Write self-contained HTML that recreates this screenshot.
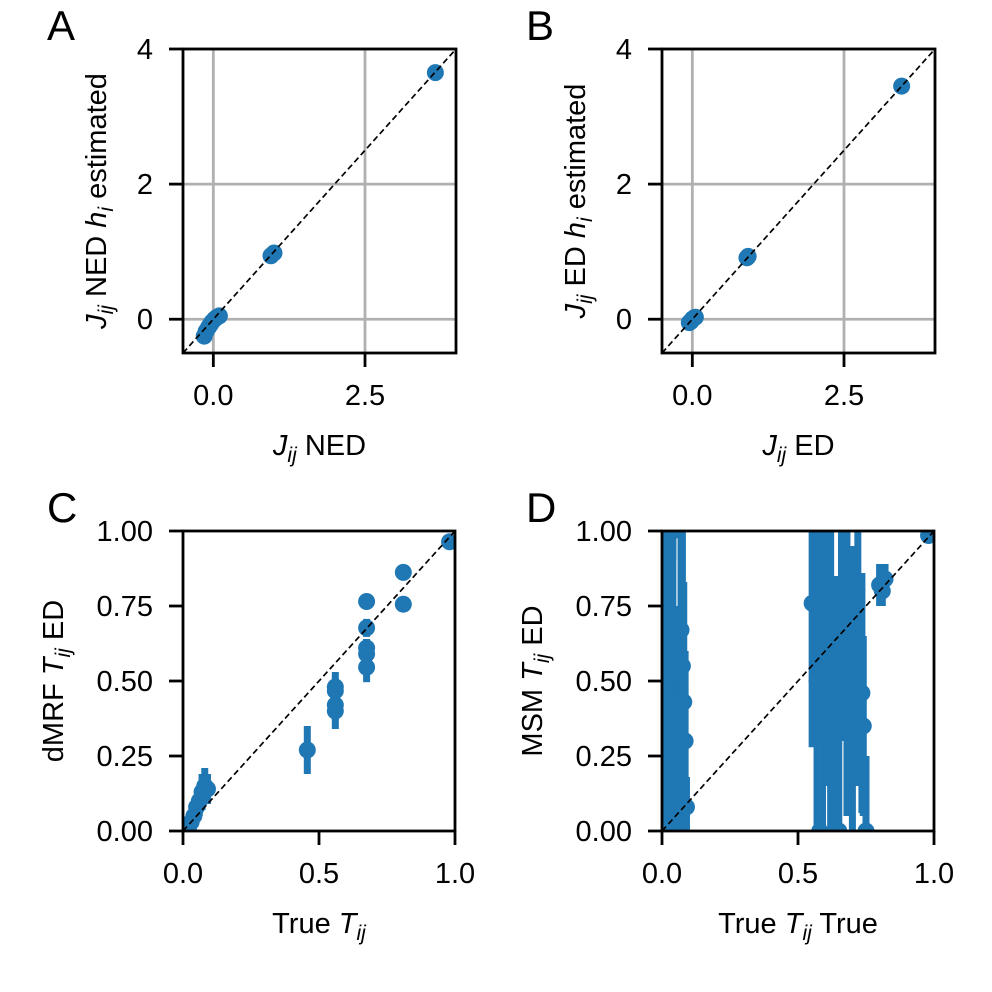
<!DOCTYPE html>
<html><head><meta charset="utf-8"><style>
html,body{margin:0;padding:0;background:#fff;}
svg{display:block;font-family:"Liberation Sans",sans-serif;}
</style></head><body>
<svg id="fig" width="992" height="992" viewBox="0 0 992 992" xmlns="http://www.w3.org/2000/svg"></svg>
<script>
// Panel A data
const aX = [3.66, 0.95, 1.0, -0.15, -0.12, -0.08, -0.05, -0.02, 0.02, 0.06, 0.1];
const aY = [3.65, 0.94, 0.98, -0.25, -0.18, -0.12, -0.08, -0.04, 0.0, 0.03, 0.05];
// Panel B data
const bX = [3.45, 0.9, 0.92, -0.05, -0.02, 0.0, 0.03, 0.05];
const bY = [3.45, 0.91, 0.93, -0.05, -0.03, 0.0, 0.02, 0.03];
// Panel C data (x, y, y error)
const cX = [0.98, 0.81, 0.81, 0.675, 0.675, 0.675, 0.675, 0.675, 0.56, 0.56, 0.56, 0.56, 0.457, 0.01, 0.02, 0.03, 0.04, 0.05, 0.06, 0.07, 0.08, 0.09];
const cY = [0.964, 0.862, 0.756, 0.765, 0.677, 0.61, 0.59, 0.546, 0.48, 0.467, 0.42, 0.40, 0.27, 0.0, 0.01, 0.03, 0.05, 0.08, 0.10, 0.13, 0.15, 0.14];
const cErr = [0.0, 0.0, 0.0, 0.02, 0.03, 0.03, 0.03, 0.05, 0.05, 0.04, 0.05, 0.06, 0.08, 0.02, 0.02, 0.03, 0.03, 0.04, 0.05, 0.06, 0.06, 0.05];
// Panel D data (x, y, y error)
const dX = [0.01, 0.02, 0.03, 0.04, 0.05, 0.06, 0.07, 0.075, 0.08, 0.085, 0.09, 0.06, 0.04, 0.552, 0.57, 0.59, 0.60, 0.62, 0.64, 0.66, 0.68, 0.70, 0.72, 0.735, 0.74, 0.80, 0.81, 0.82, 0.98, 0.58, 0.65, 0.75];
const dY = [0.5, 0.6, 0.45, 0.7, 0.35, 0.25, 0.67, 0.55, 0.43, 0.3, 0.08, 0.15, 1.0, 0.759, 0.5, 0.45, 0.6, 0.5, 0.4, 0.7, 0.55, 0.45, 0.6, 0.46, 0.35, 0.82, 0.80, 0.84, 0.985, 0.0, 0.0, 0.0];
const dErr = [0.5, 0.5, 0.5, 0.4, 0.4, 0.3, 0.4, 0.5, 0.4, 0.3, 0.1, 0.2, 0.1, 0.48, 0.5, 0.55, 0.45, 0.5, 0.45, 0.4, 0.5, 0.5, 0.45, 0.4, 0.3, 0.07, 0.05, 0.05, 0.0, 0.3, 0.4, 0.25];

const xTicksAB = [0.0, 2.5];
const xTickLabelsAB = ["0.0", "2.5"];
const yTicksAB = [0, 2, 4];
const yTickLabelsAB = ["0", "2", "4"];
const xTicksCD = [0.0, 0.5, 1.0];
const xTickLabelsCD = ["0.0", "0.5", "1.0"];
const yTicksCD = [0, 0.25, 0.5, 0.75, 1.0];
const yTickLabelsCD = ["0.00", "0.25", "0.50", "0.75", "1.00"];

const NS = "http://www.w3.org/2000/svg";
const fig = document.getElementById('fig');
const BLUE = "#1f77b4";
const FS = 29;
function mk(tag, attrs, parent) {
  const e = document.createElementNS(NS, tag);
  for (const k in attrs) e.setAttribute(k, attrs[k]);
  (parent || fig).appendChild(e);
  return e;
}
function panel(cfg) {
  const g = mk('g', {});
  
  
  const sx = v => cfg.x0 + (v - cfg.xmin) / (cfg.xmax - cfg.xmin) * (cfg.x1 - cfg.x0);
  const sy = v => cfg.y1 - (v - cfg.ymin) / (cfg.ymax - cfg.ymin) * (cfg.y1 - cfg.y0);
  const clipId = 'clip' + cfg.letter;
  const cp = mk('clipPath', {id: clipId}, g);
  mk('rect', {x: cfg.x0, y: cfg.y0, width: cfg.x1 - cfg.x0, height: cfg.y1 - cfg.y0}, cp);
  if (cfg.grid) {
    cfg.xt.forEach(t => {
      const l = mk('line', {x1: sx(t), x2: sx(t), y1: cfg.y0, y2: cfg.y1, stroke: '#b0b0b0', 'stroke-width': 2.8}, g);
      
      
    });
    cfg.yt.forEach(t => {
      const l = mk('line', {x1: cfg.x0, x2: cfg.x1, y1: sy(t), y2: sy(t), stroke: '#b0b0b0', 'stroke-width': 2.8}, g);
      
      
    });
  }
  const data = mk('g', {'clip-path': 'url(#' + clipId + ')'}, g);
  
  
  for (let i = 0; i < cfg.X.length; i++) {
    const e = cfg.E ? cfg.E[i] : 0;
    if (e > 0) {
      const b = mk('line', {x1: sx(cfg.X[i]), x2: sx(cfg.X[i]), y1: sy(cfg.Y[i] - e), y2: sy(cfg.Y[i] + e), stroke: BLUE, 'stroke-width': 7}, data);
      
      
    }
    const c = mk('circle', {cx: sx(cfg.X[i]), cy: sy(cfg.Y[i]), r: 8.5, fill: BLUE}, data);
    
    
  }
  const lo = Math.max(cfg.xmin, cfg.ymin), hi = Math.min(cfg.xmax, cfg.ymax);
  const d = mk('line', {x1: sx(lo), y1: sy(lo), x2: sx(hi), y2: sy(hi), stroke: '#000', 'stroke-width': 1.7, 'stroke-dasharray': '6,3.5'}, g);
  
  
  const fr = mk('rect', {x: cfg.x0, y: cfg.y0, width: cfg.x1 - cfg.x0, height: cfg.y1 - cfg.y0, fill: 'none', stroke: '#000', 'stroke-width': 2.8}, g);
  
  
  cfg.xt.forEach((t, i) => {
    mk('line', {x1: sx(t), x2: sx(t), y1: cfg.y1, y2: cfg.y1 + 14, stroke: '#000', 'stroke-width': 2.8}, g);
    const tx = mk('text', {x: sx(t), y: cfg.y1 + 52, 'font-size': FS, 'text-anchor': 'middle'}, g);
    tx.textContent = cfg.xl[i];
    
    
  });
  cfg.yt.forEach((t, i) => {
    mk('line', {x1: cfg.x0 - 14, x2: cfg.x0, y1: sy(t), y2: sy(t), stroke: '#000', 'stroke-width': 2.8}, g);
    const tx = mk('text', {x: cfg.x0 - 30, y: sy(t) + 10, 'font-size': FS, 'text-anchor': 'end'}, g);
    tx.textContent = cfg.yl[i];
    
    
  });
  const L = mk('text', {x: cfg.letterX, y: cfg.y0 - 9, 'font-size': 42}, g);
  L.textContent = cfg.letter;
  
  
  const xlab = mk('text', {x: (cfg.x0 + cfg.x1) / 2, y: cfg.y1 + 102, 'font-size': FS, 'text-anchor': 'middle'}, g);
  xlab.innerHTML = cfg.xlabel;
  
  
  const ylab = mk('text', {x: 0, y: 0, 'font-size': FS, 'text-anchor': 'middle', transform: 'translate(' + cfg.ylabX + ',' + ((cfg.y0 + cfg.y1) / 2) + ') rotate(-90)'}, g);
  ylab.innerHTML = cfg.ylabel;
  
  
}
const Jij = '<tspan font-style="italic">J</tspan><tspan font-style="italic" font-size="21" dy="7">ij</tspan><tspan dy="-7"> </tspan>';
const Tij = '<tspan font-style="italic">T</tspan><tspan font-style="italic" font-size="21" dy="7">ij</tspan><tspan dy="-7"> </tspan>';
const hi = '<tspan font-style="italic">h</tspan><tspan font-style="italic" font-size="21" dy="7">i</tspan><tspan dy="-7"> </tspan>';
panel({letter: 'A', letterX: 47, x0: 183, x1: 456, y0: 49, y1: 353, xmin: -0.5, xmax: 4, ymin: -0.5, ymax: 4, grid: true,
  X: aX, Y: aY, xt: xTicksAB, xl: xTickLabelsAB, yt: yTicksAB, yl: yTickLabelsAB,
  xlabel: Jij + 'NED', ylabel: Jij + 'NED ' + hi + 'estimated', ylabX: 106});
panel({letter: 'B', letterX: 526, x0: 662, x1: 935, y0: 49, y1: 353, xmin: -0.5, xmax: 4, ymin: -0.5, ymax: 4, grid: true,
  X: bX, Y: bY, xt: xTicksAB, xl: xTickLabelsAB, yt: yTicksAB, yl: yTickLabelsAB,
  xlabel: Jij + 'ED', ylabel: Jij + 'ED ' + hi + 'estimated', ylabX: 585});
panel({letter: 'C', letterX: 47, x0: 183, x1: 455, y0: 531, y1: 831, xmin: 0, xmax: 1, ymin: 0, ymax: 1, grid: false,
  X: cX, Y: cY, E: cErr, xt: xTicksCD, xl: xTickLabelsCD, yt: yTicksCD, yl: yTickLabelsCD,
  xlabel: 'True ' + Tij, ylabel: 'dMRF ' + Tij + 'ED', ylabX: 63});
panel({letter: 'D', letterX: 526, x0: 662, x1: 934, y0: 531, y1: 831, xmin: 0, xmax: 1, ymin: 0, ymax: 1, grid: false,
  X: dX, Y: dY, E: dErr, xt: xTicksCD, xl: xTickLabelsCD, yt: yTicksCD, yl: yTickLabelsCD,
  xlabel: 'True ' + Tij + 'True', ylabel: 'MSM ' + Tij + 'ED', ylabX: 542});
</script>
</body></html>
